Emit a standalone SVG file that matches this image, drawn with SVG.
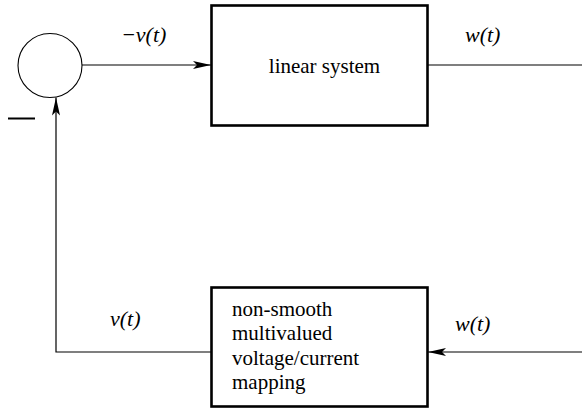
<svg xmlns="http://www.w3.org/2000/svg" width="582" height="408" viewBox="0 0 582 408">
<style>
.ln{fill:none;stroke:#000;stroke-width:1.2}
.bx{fill:#fff;stroke:#000;stroke-width:2.6}
</style>
<defs>
<marker id="ah" viewBox="0 0 18 8" refX="18" refY="4" markerWidth="18" markerHeight="8" markerUnits="userSpaceOnUse" orient="auto">
<path d="M0,0 L18,4 L0,8 L4,4 Z" fill="#000"/>
</marker>
</defs>
<rect width="582" height="408" fill="#fff"/>
<g id="connectors">
<line class="ln" x1="82" y1="65" x2="211" y2="65" marker-end="url(#ah)"/>
<line class="ln" x1="428" y1="65" x2="582" y2="65"/>
<polyline class="ln" points="211,352 56,352 56,97.5" marker-end="url(#ah)"/>
<line class="ln" x1="582" y1="352" x2="428" y2="352" marker-end="url(#ah)"/>
<text style="font-family:'Liberation Serif' !important;font-size:22px;font-style:italic" x="121" y="42">−v(t)</text>
<text style="font-family:'Liberation Serif' !important;font-size:22px;font-style:italic" x="465" y="42">w(t)</text>
<text style="font-family:'Liberation Serif' !important;font-size:22px;font-style:italic" x="110" y="326">v(t)</text>
<text style="font-family:'Liberation Serif' !important;font-size:22px;font-style:italic" x="455" y="331">w(t)</text>
</g>
<g id="sum">
<circle cx="50" cy="65.5" r="32" fill="#fff" stroke="#000" stroke-width="1.1"/>
<line x1="8" y1="118.5" x2="35" y2="118.5" stroke="#000" stroke-width="2"/>
</g>
<g id="linear">
<rect class="bx" x="211.5" y="5.5" width="216" height="120"/>
<text style="font-family:'Liberation Serif' !important;font-size:21px" x="324.5" y="73" text-anchor="middle">linear system</text>
</g>
<g id="mapping">
<rect class="bx" x="211.5" y="287.5" width="216" height="119"/>
<text style="font-family:'Liberation Serif' !important;font-size:21px" x="232" y="316">non-smooth</text>
<text style="font-family:'Liberation Serif' !important;font-size:21px" x="232" y="340">multivalued</text>
<text style="font-family:'Liberation Serif' !important;font-size:21px" x="232" y="365">voltage/current</text>
<text style="font-family:'Liberation Serif' !important;font-size:21px" x="232" y="389">mapping</text>
</g>
</svg>
